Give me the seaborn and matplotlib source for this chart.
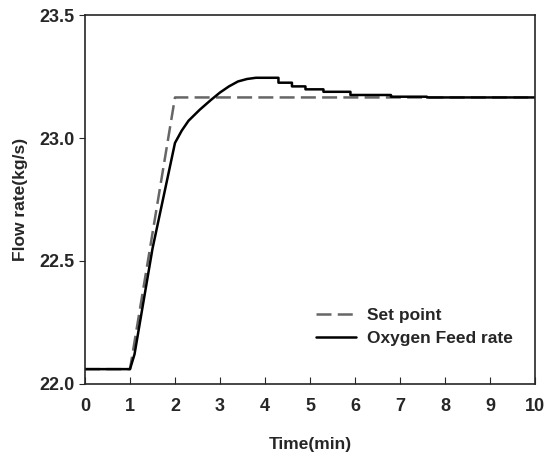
import numpy as np
import pandas as pd
import matplotlib
matplotlib.use("Agg")
import matplotlib.pyplot as plt
import seaborn as sns

# Set point (min, kg/s)
sp_time = [0.0, 1.0, 2.0, 10.0]
sp_flow = [22.06, 22.06, 23.165, 23.165]

# Oxygen feed rate (min, kg/s)
of_time = [0.0, 1.0, 1.1, 1.5, 2.0, 2.15, 2.3, 2.55, 2.8, 3.0, 3.2, 3.4, 3.6, 3.8,
           4.3, 4.3, 4.6, 4.6, 4.9, 4.9, 5.3, 5.3, 5.9, 5.9, 6.8, 6.8, 7.6, 7.6, 10.0]
of_flow = [22.06, 22.06, 22.12, 22.55, 22.98, 23.03, 23.07, 23.115, 23.155, 23.185, 23.21,
           23.23, 23.24, 23.245, 23.245, 23.225, 23.225, 23.21, 23.21, 23.198, 23.198,
           23.188, 23.188, 23.175, 23.175, 23.168, 23.168, 23.165, 23.165]

sns.set_style("ticks")
plt.rcParams['font.family'] = ['Liberation Sans', 'DejaVu Sans']
plt.rcParams['font.weight'] = 'bold'

sp = pd.DataFrame({"t": sp_time, "f": sp_flow})
of = pd.DataFrame({"t": of_time, "f": of_flow})

fig, ax = plt.subplots(figsize=(5.52, 4.57), dpi=100)
sns.lineplot(data=sp, x="t", y="f", ax=ax, color="#666666", lw=1.8,
             linestyle=(0, (6, 2.5)), label="Set point", sort=False,
             estimator=None)
sns.lineplot(data=of, x="t", y="f", ax=ax, color="black", lw=1.8,
             label="Oxygen Feed rate", sort=False, estimator=None)

ax.set_xlim(0, 10)
ax.set_ylim(22.0, 23.5)
ax.set_xticks(np.arange(0, 11, 1))
ax.set_yticks([22.0, 22.5, 23.0, 23.5])
ax.set_yticklabels(["22.0", "22.5", "23.0", "23.5"])
ax.tick_params(axis="x", direction="in", length=5, labelsize=13, pad=10)
ax.tick_params(axis="y", direction="out", length=4, labelsize=13)
for lab in ax.get_xticklabels() + ax.get_yticklabels():
    lab.set_fontweight("bold")
for s in ax.spines.values():
    s.set_linewidth(1.2)

ax.set_xlabel("Time(min)", fontsize=12.5, fontweight="bold", labelpad=16)
ax.set_ylabel("Flow rate(kg/s)", fontsize=12.5, fontweight="bold", labelpad=8)

leg = ax.legend(loc="lower right", bbox_to_anchor=(0.985, 0.06), frameon=False,
                prop={"size": 12.5, "weight": "bold"}, handlelength=2.3,
                handletextpad=0.6, labelspacing=0.45)

fig.subplots_adjust(left=0.154, right=0.969, top=0.967, bottom=0.16)
fig.savefig("out.png", dpi=100)
